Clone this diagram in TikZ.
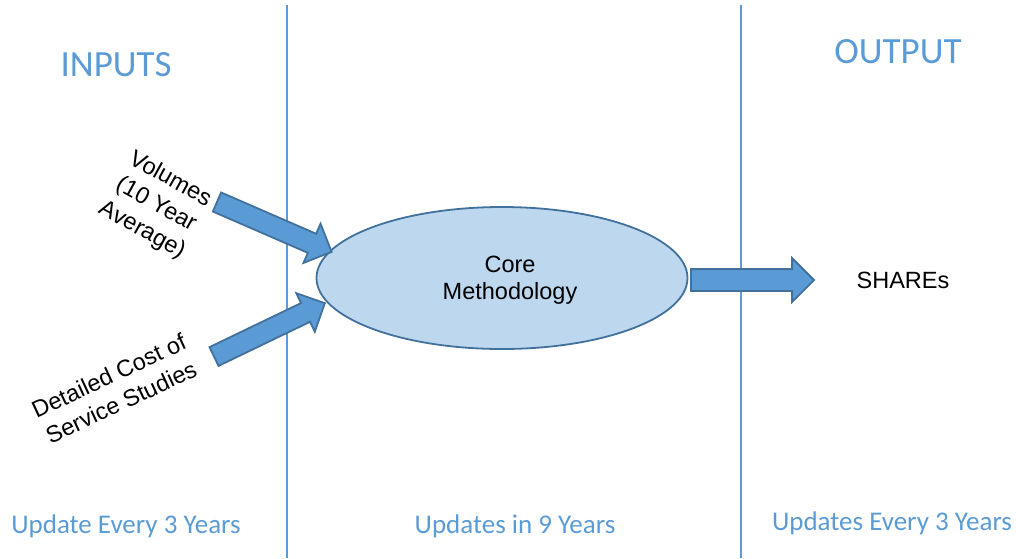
\documentclass[tikz,border=0pt]{standalone}
\usepackage{fontspec}
\setmainfont{Liberation Sans}
\newfontfamily\calfont{Carlito}
\usetikzlibrary{shapes.geometric,shapes.arrows}
\definecolor{lineblue}{HTML}{5B9BD5}
\definecolor{arrowfill}{HTML}{5B9BD5}
\definecolor{arrowedge}{HTML}{41719C}
\definecolor{ellfill}{HTML}{BDD7EE}
\begin{document}
\begin{tikzpicture}[x=1pt,y=-1pt,
  divider/.style={draw=lineblue,line width=1.1pt},
  title/.style={text=lineblue,font=\calfont\fontsize{37}{44}\selectfont,inner sep=0},
  foot/.style={text=lineblue,font=\calfont\fontsize{27}{32}\selectfont,inner sep=0},
  label/.style={text=black,font=\fontsize{23.5}{27}\selectfont,align=center,inner sep=0},
  slanted/.style={label,font=\fontsize{23.5}{29}\selectfont},
  fatarrow/.style={single arrow,draw=arrowedge,fill=arrowfill,line width=1.8pt,
    inner xsep=0pt,inner ysep=9.5pt,single arrow head extend=11pt,
    single arrow tip angle=90,anchor=tail,outer sep=0},
  core/.style={ellipse,draw=arrowedge,fill=ellfill,line width=1.8pt,
    minimum width=371pt,minimum height=142pt,inner sep=0}]
\useasboundingbox (0,0) rectangle (1016,558);
\coordinate (l1t) at (287,5); \coordinate (l1b) at (287,558);
\coordinate (l2t) at (741,5); \coordinate (l2b) at (741,558);
\draw[divider] (l1t) -- (l1b);
\draw[divider] (l2t) -- (l2b);
\node[title] (inputs) at (116,65) {INPUTS};
\node[title] (output) at (898,52) {OUTPUT};
\node[foot] (f1) at (126,526) {Update Every 3 Years};
\node[foot] (f2) at (515,526) {Updates in 9 Years};
\node[foot] (f3) at (892,523) {Updates Every 3 Years};
\node[core] (core) at (502,278) {};
\node[label] (coretext) at (510,280) {Core\\Methodology};
\node[label] (shares) at (903,280) {SHAREs};
\node[slanted,rotate=-29] (vol) at (156,205) {Volumes\\(10 Year\\Average)};
\node[slanted,rotate=25] (dcs) at (115,389) {Detailed Cost of\\Service Studies};
\node[fatarrow,minimum height=125pt,rotate=-23.5] (a1) at (217,202) {};
\node[fatarrow,minimum height=123pt,rotate=25.7] (a2) at (214,356.5) {};
\node[fatarrow,minimum height=123pt,inner ysep=10pt] (a3) at (691,280) {};
\end{tikzpicture}
\end{document}
